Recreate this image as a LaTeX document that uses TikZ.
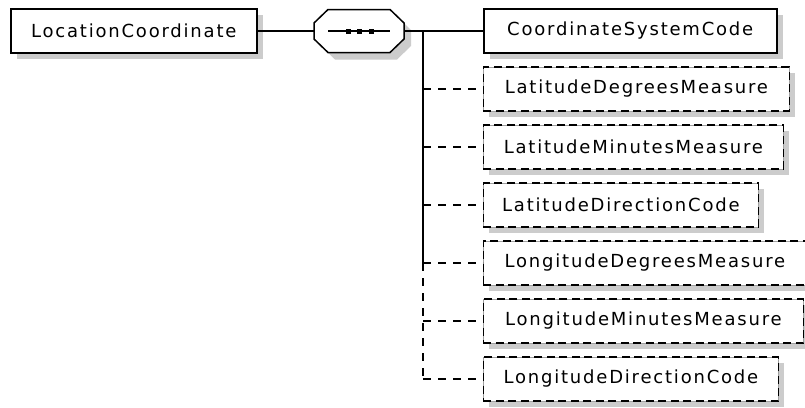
\documentclass[tikz,border=0pt]{standalone}
\usepackage{fontspec}
\newfontfamily\xsdfont{DejaVu Sans}[LetterSpace=10]
\usetikzlibrary{shadows,calc}
\definecolor{shadowgray}{RGB}{204,204,204}
\definecolor{edgegray}{RGB}{160,160,160}

\tikzset{
  elem/.style={draw=black, line width=1.5pt, fill=white, minimum height=44pt, inner xsep=0pt,
    font=\xsdfont\fontsize{18}{21}\selectfont,
    drop shadow={shadow xshift=6pt, shadow yshift=-6pt, fill=shadowgray, opacity=1}},
  optelem/.style={elem, draw=edgegray, line width=0.8pt,
    postaction={draw=black, line width=1.5pt, dash pattern=on 8pt off 4.5pt}},
  wire/.style={line width=1.5pt},
  optwire/.style={wire, dash pattern=on 8pt off 7pt},
}

\begin{document}
\begin{tikzpicture}[x=1pt, y=-1pt]
  \useasboundingbox[fill=white] (0,0) rectangle (805,407);

  % parent element and sequence compositor
  \node[elem, minimum width=246pt, anchor=west] (loc) at (10,31) {LocationCoordinate};
  \node[minimum width=90pt, minimum height=43pt, inner sep=0pt] (seq) at (359,31) {};
  \draw[wire, fill=white, drop shadow={shadow xshift=7pt, shadow yshift=-7pt, fill=shadowgray, opacity=1}]
    ($(seq)+(-45,-8)$) -- ($(seq)+(-31,-21.5)$) -- ($(seq)+(31,-21.5)$) -- ($(seq)+(45,-8)$)
    -- ($(seq)+(45,8)$) -- ($(seq)+(31,21.5)$) -- ($(seq)+(-31,21.5)$) -- ($(seq)+(-45,8)$) -- cycle;
  \draw[wire] ($(seq)+(-31,0)$) -- ($(seq)+(31,0)$);
  \foreach \dx in {-11,0,12}
    \fill ($(seq)+(\dx-2.5,-2.5)$) rectangle +(5,5);

  % child elements
  \node[elem, minimum width=293pt, anchor=west] (csc) at (483,31) {CoordinateSystemCode};
  \foreach \elname/\txt/\boxw [count=\i] in {
      latdeg/LatitudeDegreesMeasure/306,
      latmin/LatitudeMinutesMeasure/300,
      latdir/LatitudeDirectionCode/275,
      londeg/LongitudeDegreesMeasure/323,
      lonmin/LongitudeMinutesMeasure/320,
      londir/LongitudeDirectionCode/295}
    \node[optelem, minimum width=\boxw pt, anchor=west] (\elname) at (483,31+58*\i) {\txt};

  % connectors
  \coordinate (junc) at (423,31);
  \draw[wire] (loc.east) -- (seq.west);
  \draw[wire] (seq.east) -- (junc) -- (csc.west);
  \draw[wire] (junc) -- (junc |- londeg.west);
  \draw[optwire] (junc |- londeg.west) -- (junc |- londir.west);
  \foreach \elname in {latdeg,latmin,latdir,londeg,lonmin,londir}
    \draw[optwire] (junc |- \elname.west) -- (\elname.west);
\end{tikzpicture}
\end{document}
